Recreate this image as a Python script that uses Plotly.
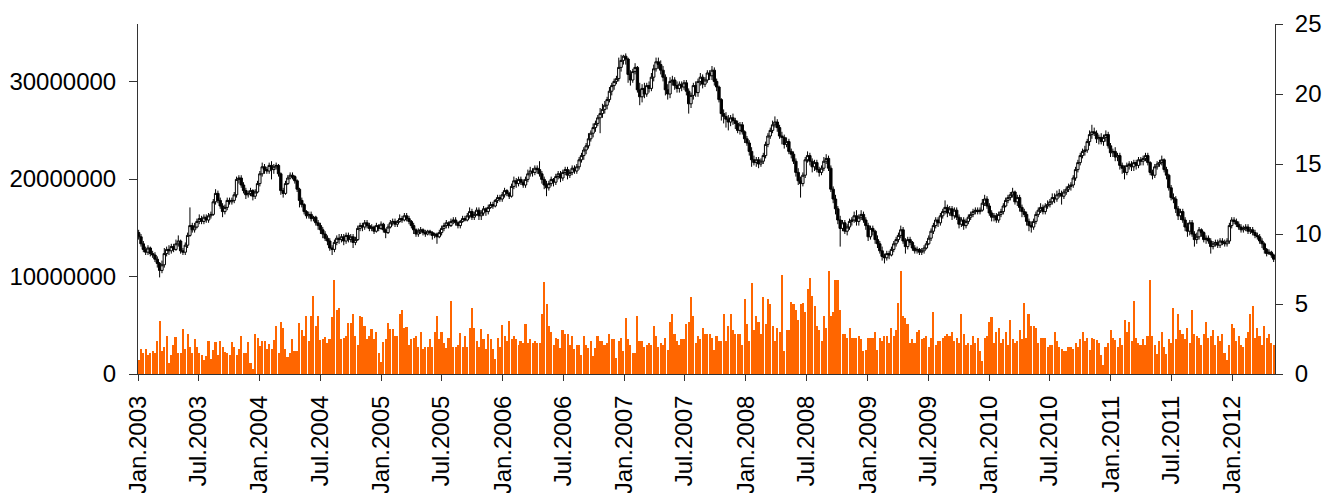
import pandas as pd
import plotly.graph_objects as go

# ---------------- data (weekly) ----------------
open_p = [
10.1, 9.8, 9.3, 8.9, 8.7, 9.0, 8.6, 8.5, 8.2, 7.9,
7.4, 7.8, 8.6, 8.9, 8.8, 9.1, 8.9, 9.3, 9.5, 8.8,
8.7, 9.2, 9.9, 10.6, 10.3, 10.5, 10.9, 11.1, 10.9, 11.2,
11.0, 11.3, 11.4, 12.3, 12.9, 12.4, 12.0, 11.6, 11.9, 12.4,
12.3, 12.4, 12.8, 13.9, 14.0, 13.5, 13.1, 12.8, 12.9, 13.1,
12.7, 13.0, 13.6, 14.3, 14.8, 14.6, 14.5, 14.9, 14.6, 14.8,
14.9, 14.3, 13.1, 12.9, 13.6, 14.0, 14.2, 14.1, 13.8, 13.2,
12.4, 12.1, 11.6, 11.3, 11.4, 11.1, 11.2, 10.8, 10.6, 10.3,
10.0, 9.7, 9.5, 9.0, 8.9, 9.4, 9.7, 9.6, 9.8, 9.5,
9.9, 9.6, 9.8, 9.4, 9.6, 10.4, 10.6, 10.5, 10.8, 10.6,
10.4, 10.5, 10.2, 10.6, 10.4, 10.7, 10.3, 10.1, 10.5, 10.8,
10.9, 10.7, 10.9, 11.1, 11.0, 11.3, 11.1, 10.9, 10.6, 10.3,
10.0, 10.2, 10.3, 10.1, 10.0, 10.2, 10.1, 9.9, 10.0, 9.8,
10.1, 10.4, 10.6, 10.8, 10.6, 10.9, 11.0, 10.8, 10.6, 10.9,
11.1, 11.0, 11.3, 11.6, 11.2, 11.4, 11.7, 11.3, 11.5, 11.8,
11.6, 11.9, 12.1, 12.0, 12.4, 12.6, 12.5, 12.8, 13.1, 12.9,
12.7, 13.4, 13.8, 13.6, 13.9, 13.7, 13.5, 13.9, 14.3, 14.5,
14.4, 14.7, 14.6, 14.3, 13.9, 13.5, 13.3, 13.6, 13.9, 13.7,
14.1, 14.3, 14.0, 14.4, 14.6, 14.2, 14.4, 14.7, 14.5, 14.8,
15.3, 15.6, 16.0, 16.3, 16.8, 17.2, 17.6, 17.9, 18.3, 18.6,
18.9, 19.2, 19.6, 20.2, 20.6, 20.9, 21.1, 21.9, 22.4, 22.7,
22.5, 21.4, 21.0, 21.6, 21.9, 20.3, 19.8, 20.4, 20.0, 20.6,
20.4, 21.2, 21.8, 22.3, 22.1, 21.7, 21.2, 20.3, 20.0, 20.9,
21.0, 20.6, 20.4, 20.7, 20.5, 20.8, 20.2, 19.3, 19.9, 20.6,
20.1, 20.9, 21.2, 20.7, 21.0, 21.5, 21.3, 21.7, 20.9, 20.5,
19.6, 18.6, 18.4, 18.2, 18.0, 18.3, 18.1, 17.9, 17.4, 17.8,
17.3, 16.8, 16.5, 15.9, 15.3, 15.1, 15.3, 15.0, 15.2, 15.6,
16.4, 17.0, 17.4, 17.8, 18.0, 17.6, 17.0, 16.9, 16.4, 16.6,
15.9, 15.7, 15.2, 14.4, 13.8, 13.6, 14.2, 15.3, 15.6, 15.2,
14.8, 15.1, 14.6, 14.4, 14.7, 15.2, 15.4, 14.7, 13.2, 12.5,
11.8, 11.0, 10.4, 10.8, 10.2, 10.5, 10.9, 11.0, 11.3, 10.9,
11.2, 11.4, 11.0, 10.6, 9.8, 10.4, 10.2, 9.6, 9.3, 8.8,
8.4, 8.3, 8.6, 8.5, 8.9, 9.3, 9.6, 9.9, 10.3, 9.5,
9.1, 9.6, 9.4, 9.0, 8.8, 8.9, 8.7, 8.8, 9.0, 9.3,
9.7, 10.2, 10.6, 11.0, 10.8, 11.3, 11.6, 11.9, 11.5, 11.8,
11.3, 11.7, 11.2, 10.7, 11.0, 10.6, 10.9, 11.2, 11.4, 11.6,
11.7, 11.6, 11.7, 12.2, 12.5, 12.0, 11.5, 11.2, 11.3, 11.0,
11.4, 11.6, 12.0, 12.4, 12.6, 12.8, 13.0, 12.3, 12.6, 11.9,
11.6, 11.4, 10.9, 10.6, 10.5, 10.9, 11.4, 11.7, 11.9, 11.6,
12.0, 12.1, 12.3, 12.6, 12.5, 12.8, 12.9, 12.7, 13.0, 13.2,
13.4, 13.5, 14.0, 14.6, 15.1, 15.6, 15.9, 16.0, 16.6, 17.1,
17.3, 17.2, 16.8, 16.9, 16.6, 16.9, 17.1, 16.3, 15.8, 15.9,
15.5, 15.6, 14.9, 14.7, 14.4, 14.9, 15.0, 14.8, 15.1, 14.9,
15.3, 15.2, 15.4, 15.6, 15.1, 14.4, 14.2, 14.8, 15.0, 15.1,
15.3, 14.6, 14.2, 13.3, 12.6, 12.5, 11.8, 11.3, 11.6, 11.0,
10.5, 10.2, 10.8, 10.0, 9.6, 9.8, 10.3, 10.1, 9.6, 9.7,
9.5, 9.1, 9.3, 9.4, 9.2, 9.5, 9.4, 9.3, 9.5, 10.6,
11.0, 10.9, 10.7, 10.5, 10.3, 10.4, 10.5, 10.2, 10.3, 10.1,
9.9, 9.8, 9.5, 9.3, 8.9, 8.6, 8.7, 8.5,
]

high_p = [
10.3, 10.0, 9.5, 9.1, 9.2, 9.1, 8.8, 8.7, 8.4, 8.0,
8.1, 9.0, 9.1, 9.2, 9.3, 9.3, 9.6, 9.9, 9.6, 9.0,
9.4, 10.1, 11.9, 10.8, 10.8, 11.1, 11.4, 11.3, 11.4, 11.4,
11.5, 11.6, 12.5, 13.2, 13.1, 12.6, 12.2, 12.1, 12.6, 12.6,
12.6, 13.0, 14.1, 14.2, 14.2, 13.7, 13.3, 13.1, 13.3, 13.2,
13.2, 13.8, 14.5, 15.1, 15.0, 14.8, 15.1, 15.2, 15.0, 15.1,
15.0, 14.4, 13.3, 13.8, 14.2, 14.4, 14.4, 14.2, 13.9, 13.3,
12.6, 12.2, 11.7, 11.6, 11.6, 11.3, 11.3, 11.0, 10.8, 10.5,
10.2, 9.9, 9.7, 9.2, 9.6, 9.9, 10.0, 10.0, 10.0, 10.1,
10.1, 10.0, 10.0, 9.8, 10.6, 10.8, 10.8, 11.0, 11.0, 10.8,
10.7, 10.6, 10.8, 10.7, 10.9, 10.8, 10.4, 10.7, 11.0, 11.1,
11.1, 11.0, 11.4, 11.3, 11.5, 11.5, 11.3, 11.0, 10.8, 10.4,
10.4, 10.5, 10.4, 10.3, 10.3, 10.3, 10.2, 10.1, 10.1, 10.3,
10.6, 10.8, 11.0, 10.9, 11.1, 11.2, 11.2, 10.9, 11.0, 11.3,
11.3, 11.5, 11.9, 11.8, 11.6, 11.9, 11.9, 11.7, 12.0, 11.9,
12.1, 12.3, 12.3, 12.5, 12.8, 12.8, 13.0, 13.3, 13.2, 13.0,
13.6, 14.1, 14.0, 14.1, 14.1, 13.9, 14.1, 14.6, 14.8, 14.7,
14.9, 14.9, 15.2, 14.5, 14.1, 13.8, 13.8, 14.1, 14.0, 14.3,
14.5, 14.5, 14.6, 14.8, 14.8, 14.6, 14.9, 14.9, 15.0, 15.5,
15.8, 16.2, 16.5, 17.2, 17.4, 17.9, 18.1, 18.5, 19.0, 19.3,
19.5, 19.8, 20.5, 20.8, 21.1, 21.3, 22.6, 22.8, 22.8, 22.9,
22.6, 21.7, 21.8, 22.2, 22.0, 20.8, 20.7, 20.8, 20.8, 20.9,
21.5, 22.1, 22.6, 22.6, 22.4, 22.0, 21.4, 20.7, 21.2, 21.3,
21.2, 20.9, 20.9, 20.9, 21.0, 21.0, 20.4, 20.1, 20.8, 20.9,
21.1, 21.5, 21.4, 21.2, 21.7, 21.7, 22.0, 21.9, 21.1, 20.6,
19.7, 18.9, 18.7, 18.5, 18.5, 18.6, 18.3, 18.1, 18.0, 18.0,
17.4, 17.0, 16.7, 16.2, 15.6, 15.5, 15.5, 15.4, 15.8, 16.6,
17.2, 17.6, 18.1, 18.4, 18.2, 17.8, 17.3, 17.1, 16.9, 16.8,
16.1, 15.9, 15.4, 14.7, 14.1, 14.4, 15.5, 15.9, 15.8, 15.4,
15.3, 15.3, 14.8, 14.9, 15.5, 15.7, 15.6, 14.9, 13.4, 12.8,
12.0, 11.3, 11.0, 11.0, 10.7, 11.1, 11.2, 11.6, 11.7, 11.4,
11.7, 11.6, 11.2, 10.8, 10.6, 10.6, 10.3, 9.9, 9.5, 9.1,
8.6, 8.8, 8.8, 9.1, 9.5, 9.8, 10.1, 10.6, 10.5, 9.7,
9.8, 9.8, 9.5, 9.2, 9.1, 9.0, 9.0, 9.2, 9.5, 9.9,
10.4, 10.8, 11.2, 11.2, 11.5, 11.8, 12.4, 12.1, 12.0, 12.0,
11.9, 11.9, 11.4, 11.2, 11.2, 11.1, 11.4, 11.6, 11.8, 11.9,
11.9, 11.9, 12.5, 12.8, 12.7, 12.2, 11.7, 11.5, 11.5, 11.6,
11.8, 12.2, 12.6, 12.8, 13.0, 13.3, 13.1, 12.8, 12.8, 12.1,
11.8, 11.6, 11.1, 10.9, 11.1, 11.6, 11.9, 12.2, 12.1, 12.2,
12.4, 12.5, 12.9, 12.9, 13.1, 13.2, 13.1, 13.2, 13.4, 13.6,
13.7, 14.2, 14.8, 15.3, 15.8, 16.1, 16.3, 16.8, 17.4, 17.8,
17.6, 17.4, 17.1, 17.2, 17.1, 17.4, 17.3, 16.5, 16.1, 16.2,
15.8, 15.8, 15.1, 14.9, 15.1, 15.2, 15.2, 15.3, 15.3, 15.5,
15.5, 15.6, 15.8, 15.8, 15.2, 14.6, 15.0, 15.2, 15.3, 15.6,
15.4, 14.8, 14.3, 13.5, 12.9, 12.7, 12.0, 11.8, 11.8, 11.2,
10.8, 11.0, 11.0, 10.2, 10.1, 10.5, 10.4, 10.2, 9.9, 9.9,
9.7, 9.5, 9.6, 9.6, 9.7, 9.7, 9.6, 9.7, 10.8, 11.2,
11.2, 11.1, 10.9, 10.7, 10.6, 10.7, 10.7, 10.5, 10.5, 10.3,
10.1, 10.0, 9.7, 9.4, 9.0, 8.9, 8.8, 8.6,
]

low_p = [
9.6, 9.1, 8.7, 8.5, 8.5, 8.4, 8.3, 8.0, 7.6, 6.9,
7.2, 7.6, 8.4, 8.5, 8.6, 8.7, 8.8, 9.1, 8.6, 8.5,
8.5, 9.0, 9.8, 10.1, 10.1, 10.4, 10.7, 10.7, 10.7, 10.8,
10.8, 11.1, 11.3, 12.1, 12.2, 11.8, 11.2, 11.4, 11.7, 12.1,
12.1, 12.2, 12.6, 13.6, 13.3, 12.9, 12.5, 12.6, 12.7, 12.4,
12.5, 12.9, 13.4, 14.1, 14.3, 14.3, 14.3, 13.9, 14.3, 14.6,
14.1, 12.8, 12.6, 12.8, 13.5, 13.9, 13.9, 13.6, 13.0, 11.9,
11.9, 11.4, 11.1, 11.1, 10.9, 10.9, 10.6, 10.3, 10.0, 9.7,
9.5, 9.2, 8.8, 8.5, 8.7, 9.2, 9.3, 9.4, 9.2, 9.3,
9.4, 9.4, 9.0, 9.2, 9.5, 10.2, 10.2, 10.3, 10.4, 10.2,
10.2, 10.0, 10.1, 10.2, 10.3, 10.1, 9.7, 10.0, 10.4, 10.6,
10.5, 10.5, 10.8, 10.8, 10.9, 10.9, 10.7, 10.4, 10.0, 9.8,
9.8, 10.0, 9.9, 9.8, 9.9, 9.9, 9.6, 9.7, 9.3, 9.7,
9.9, 10.2, 10.4, 10.4, 10.5, 10.7, 10.6, 10.4, 10.4, 10.8,
10.9, 10.9, 11.1, 11.0, 11.0, 11.3, 11.0, 11.0, 11.3, 11.3,
11.4, 11.8, 11.8, 11.9, 12.2, 12.3, 12.3, 12.6, 12.7, 12.5,
12.6, 13.2, 13.3, 13.4, 13.5, 13.3, 13.3, 13.7, 14.1, 14.1,
14.2, 14.3, 14.1, 13.6, 13.2, 12.7, 13.1, 13.4, 13.4, 13.5,
13.9, 13.7, 13.8, 14.2, 13.9, 14.0, 14.2, 14.3, 14.3, 14.6,
15.1, 15.3, 15.7, 16.1, 16.6, 16.9, 17.3, 17.7, 17.2, 18.3,
18.6, 18.9, 19.4, 19.9, 20.3, 20.7, 20.9, 21.6, 22.1, 22.1,
20.8, 20.6, 20.8, 21.4, 20.1, 19.2, 19.4, 19.7, 19.8, 20.1,
20.2, 20.9, 21.6, 21.8, 21.4, 20.9, 19.9, 19.6, 19.7, 20.6,
20.3, 20.1, 20.1, 20.2, 20.3, 19.9, 18.6, 19.0, 19.6, 19.8,
19.8, 20.6, 20.4, 20.5, 20.8, 21.0, 21.0, 20.6, 20.2, 19.4,
18.1, 17.9, 17.6, 17.4, 17.7, 17.8, 17.5, 17.2, 17.1, 17.1,
16.5, 16.3, 15.6, 14.8, 14.9, 14.8, 14.7, 14.8, 15.0, 15.4,
16.2, 16.8, 17.2, 17.6, 17.3, 16.8, 16.4, 16.1, 16.2, 15.7,
15.4, 15.0, 14.1, 13.5, 12.6, 13.4, 14.0, 15.1, 14.9, 14.4,
14.5, 14.4, 14.1, 14.2, 14.5, 15.0, 14.5, 13.0, 12.2, 11.4,
10.7, 9.1, 10.2, 10.0, 9.9, 10.3, 10.6, 10.8, 10.6, 10.6,
11.0, 10.8, 10.3, 9.5, 9.6, 9.9, 9.3, 9.0, 8.6, 8.1,
7.9, 8.1, 8.2, 8.4, 8.7, 9.1, 9.4, 9.7, 9.3, 8.6,
8.9, 9.2, 8.8, 8.6, 8.6, 8.5, 8.5, 8.6, 8.9, 9.2,
9.5, 10.0, 10.4, 10.5, 10.6, 11.1, 11.4, 11.2, 11.3, 11.0,
11.1, 11.0, 10.4, 10.5, 10.3, 10.4, 10.7, 11.0, 11.2, 11.4,
11.4, 11.4, 11.6, 12.0, 11.8, 11.3, 10.9, 10.9, 10.8, 10.8,
11.2, 11.4, 11.9, 12.2, 12.4, 12.6, 12.1, 12.0, 11.6, 11.2,
11.2, 10.6, 10.2, 10.1, 10.3, 10.7, 11.2, 11.5, 11.4, 11.4,
11.8, 11.9, 12.1, 12.2, 12.3, 12.6, 12.1, 12.5, 12.8, 13.0,
13.1, 13.3, 13.8, 14.4, 14.9, 15.4, 15.6, 15.8, 16.3, 16.8,
17.0, 16.5, 16.4, 16.4, 16.3, 16.6, 16.1, 15.5, 15.5, 15.2,
15.2, 14.6, 14.3, 13.9, 14.2, 14.6, 14.5, 14.5, 14.6, 14.7,
14.9, 14.9, 15.2, 14.9, 14.2, 13.9, 14.0, 14.6, 14.8, 14.9,
14.4, 13.9, 13.1, 12.4, 12.2, 11.5, 11.0, 11.0, 10.8, 10.2,
9.8, 9.9, 9.8, 9.1, 9.3, 9.6, 9.8, 9.4, 9.3, 9.3,
8.6, 8.9, 9.1, 9.0, 9.0, 9.2, 9.1, 9.1, 9.3, 10.4,
10.7, 10.5, 10.3, 10.1, 10.1, 10.2, 10.0, 10.0, 9.9, 9.7,
9.6, 9.3, 9.0, 8.6, 8.4, 8.5, 8.3, 8.0,
]

close_p = [
9.8, 9.3, 8.9, 8.7, 9.0, 8.6, 8.5, 8.2, 7.9, 7.4,
7.8, 8.6, 8.9, 8.8, 9.1, 8.9, 9.3, 9.5, 8.8, 8.7,
9.2, 9.9, 10.6, 10.3, 10.5, 10.9, 11.1, 10.9, 11.2, 11.0,
11.3, 11.4, 12.3, 12.9, 12.4, 12.0, 11.6, 11.9, 12.4, 12.3,
12.4, 12.8, 13.9, 14.0, 13.5, 13.1, 12.8, 12.9, 13.1, 12.7,
13.0, 13.6, 14.3, 14.8, 14.6, 14.5, 14.9, 14.6, 14.8, 14.9,
14.3, 13.1, 12.9, 13.6, 14.0, 14.2, 14.1, 13.8, 13.2, 12.4,
12.1, 11.6, 11.3, 11.4, 11.1, 11.2, 10.8, 10.6, 10.3, 10.0,
9.7, 9.5, 9.0, 8.9, 9.4, 9.7, 9.6, 9.8, 9.5, 9.9,
9.6, 9.8, 9.4, 9.6, 10.4, 10.6, 10.5, 10.8, 10.6, 10.4,
10.5, 10.2, 10.6, 10.4, 10.7, 10.3, 10.1, 10.5, 10.8, 10.9,
10.7, 10.9, 11.1, 11.0, 11.3, 11.1, 10.9, 10.6, 10.3, 10.0,
10.2, 10.3, 10.1, 10.0, 10.2, 10.1, 9.9, 10.0, 9.8, 10.1,
10.4, 10.6, 10.8, 10.6, 10.9, 11.0, 10.8, 10.6, 10.9, 11.1,
11.0, 11.3, 11.6, 11.2, 11.4, 11.7, 11.3, 11.5, 11.8, 11.6,
11.9, 12.1, 12.0, 12.4, 12.6, 12.5, 12.8, 13.1, 12.9, 12.7,
13.4, 13.8, 13.6, 13.9, 13.7, 13.5, 13.9, 14.3, 14.5, 14.4,
14.7, 14.6, 14.3, 13.9, 13.5, 13.3, 13.6, 13.9, 13.7, 14.1,
14.3, 14.0, 14.4, 14.6, 14.2, 14.4, 14.7, 14.5, 14.8, 15.3,
15.6, 16.0, 16.3, 16.8, 17.2, 17.6, 17.9, 18.3, 18.6, 18.9,
19.2, 19.6, 20.2, 20.6, 20.9, 21.1, 21.9, 22.4, 22.7, 22.5,
21.4, 21.0, 21.6, 21.9, 20.3, 19.8, 20.4, 20.0, 20.6, 20.4,
21.2, 21.8, 22.3, 22.1, 21.7, 21.2, 20.3, 20.0, 20.9, 21.0,
20.6, 20.4, 20.7, 20.5, 20.8, 20.2, 19.3, 19.9, 20.6, 20.1,
20.9, 21.2, 20.7, 21.0, 21.5, 21.3, 21.7, 20.9, 20.5, 19.6,
18.6, 18.4, 18.2, 18.0, 18.3, 18.1, 17.9, 17.4, 17.8, 17.3,
16.8, 16.5, 15.9, 15.3, 15.1, 15.3, 15.0, 15.2, 15.6, 16.4,
17.0, 17.4, 17.8, 18.0, 17.6, 17.0, 16.9, 16.4, 16.6, 15.9,
15.7, 15.2, 14.4, 13.8, 13.6, 14.2, 15.3, 15.6, 15.2, 14.8,
15.1, 14.6, 14.4, 14.7, 15.2, 15.4, 14.7, 13.2, 12.5, 11.8,
11.0, 10.4, 10.8, 10.2, 10.5, 10.9, 11.0, 11.3, 10.9, 11.2,
11.4, 11.0, 10.6, 9.8, 10.4, 10.2, 9.6, 9.3, 8.8, 8.4,
8.3, 8.6, 8.5, 8.9, 9.3, 9.6, 9.9, 10.3, 9.5, 9.1,
9.6, 9.4, 9.0, 8.8, 8.9, 8.7, 8.8, 9.0, 9.3, 9.7,
10.2, 10.6, 11.0, 10.8, 11.3, 11.6, 11.9, 11.5, 11.8, 11.3,
11.7, 11.2, 10.7, 11.0, 10.6, 10.9, 11.2, 11.4, 11.6, 11.7,
11.6, 11.7, 12.2, 12.5, 12.0, 11.5, 11.2, 11.3, 11.0, 11.4,
11.6, 12.0, 12.4, 12.6, 12.8, 13.0, 12.3, 12.6, 11.9, 11.6,
11.4, 10.9, 10.6, 10.5, 10.9, 11.4, 11.7, 11.9, 11.6, 12.0,
12.1, 12.3, 12.6, 12.5, 12.8, 12.9, 12.7, 13.0, 13.2, 13.4,
13.5, 14.0, 14.6, 15.1, 15.6, 15.9, 16.0, 16.6, 17.1, 17.3,
17.2, 16.8, 16.9, 16.6, 16.9, 17.1, 16.3, 15.8, 15.9, 15.5,
15.6, 14.9, 14.7, 14.4, 14.9, 15.0, 14.8, 15.1, 14.9, 15.3,
15.2, 15.4, 15.6, 15.1, 14.4, 14.2, 14.8, 15.0, 15.1, 15.3,
14.6, 14.2, 13.3, 12.6, 12.5, 11.8, 11.3, 11.6, 11.0, 10.5,
10.2, 10.8, 10.0, 9.6, 9.8, 10.3, 10.1, 9.6, 9.7, 9.5,
9.1, 9.3, 9.4, 9.2, 9.5, 9.4, 9.3, 9.5, 10.6, 11.0,
10.9, 10.7, 10.5, 10.3, 10.4, 10.5, 10.2, 10.3, 10.1, 9.9,
9.8, 9.5, 9.3, 8.9, 8.6, 8.7, 8.5, 8.2,
]

volume_millions = [
1.4, 2.6, 2.2, 2.6, 2.0, 2.2, 2.4, 2.2, 3.4, 5.4,
2.4, 2.8, 3.9, 1.1, 2.0, 3.0, 3.8, 2.2, 2.2, 4.6,
2.6, 4.1, 2.8, 2.2, 3.6, 2.8, 2.2, 2.0, 1.4, 1.8,
3.4, 1.5, 2.5, 3.3, 2.0, 3.4, 2.8, 2.3, 2.2, 1.9,
3.3, 2.8, 1.9, 2.6, 3.9, 2.2, 2.2, 3.3, 1.1, 0.5,
4.1, 3.7, 2.9, 3.4, 3.4, 2.6, 3.1, 2.6, 3.5, 4.9,
2.2, 5.3, 4.7, 2.6, 1.7, 2.2, 3.6, 2.4, 2.4, 5.2,
4.5, 3.9, 6.0, 3.4, 5.9, 8.0, 4.9, 6.0, 3.5, 3.6,
3.8, 3.2,
3.6, 5.8, 9.6, 6.6, 6.8, 3.6, 3.7, 3.9, 5.2, 5.2,
6.2, 3.9, 3.0, 6.0, 5.8, 4.9, 3.6, 3.9, 4.6, 3.6,
4.3, 2.2, 1.2, 3.3, 3.6, 5.2, 4.6, 4.6, 3.9, 3.9,
6.2, 6.6, 4.7, 4.8, 3.0, 3.6, 3.7, 3.9, 2.8, 4.3,
2.6, 2.8, 2.8, 3.6, 2.8, 4.3, 6.0, 3.6, 4.3, 3.2,
2.7, 3.7, 7.5, 2.8, 2.8, 3.0, 4.2, 2.8, 3.9, 2.8,
4.7, 6.8, 4.7, 3.4, 2.8, 4.6, 3.6, 2.6, 4.1, 3.6,
2.6, 1.5, 3.7, 2.8, 5.0, 3.9, 3.4, 5.4, 3.6, 3.9,
3.6,
3.0, 3.4, 3.2, 5.1, 3.2, 3.6, 3.2, 3.4, 3.2, 3.2,
6.2, 9.4, 7.2, 4.9, 4.3, 3.0, 3.7, 3.6, 2.7, 4.5,
4.1, 4.1, 3.0, 3.9, 2.6, 3.0, 3.0, 2.0, 3.9, 3.0,
2.7, 3.4, 1.8, 2.7, 3.9, 3.4, 3.4, 3.0, 3.2, 4.1,
3.6, 3.6, 1.6, 3.4, 3.7, 2.4, 5.7, 3.6, 3.0, 2.2,
2.2, 6.0, 3.4, 3.4, 2.8, 3.0, 3.2, 3.0, 4.9, 3.9,
2.8, 3.2, 3.0, 3.7, 2.5, 5.3, 6.2, 4.1, 3.4, 3.0,
3.6, 3.6, 5.1, 5.3, 7.9, 6.0, 3.2, 3.9, 3.6, 4.7,
4.1, 4.1,
4.1, 3.7, 2.5, 3.9, 3.4, 3.4, 6.2, 3.4, 4.9, 6.2,
4.5, 4.1, 4.1, 4.1, 3.0, 7.7, 5.1, 3.4, 9.3, 4.5,
6.0, 5.3, 4.1, 7.9, 5.1, 7.7, 7.2, 4.9, 3.4, 4.7,
4.3, 10.2, 2.4, 4.5, 4.5, 7.4, 7.2, 6.6, 5.5, 7.2,
7.3, 6.4, 8.7, 9.8, 8.0, 7.0, 4.9, 4.5, 3.4, 6.0,
4.7, 10.6, 6.0, 6.4, 9.6, 9.6, 6.6, 4.1, 4.1, 3.7,
4.7, 3.7, 3.7, 3.7, 3.9, 3.6, 2.4, 2.5, 3.7, 3.7,
3.7, 4.3, 2.5, 3.7, 3.4, 3.9, 3.9, 3.2, 4.7, 3.9,
4.5,
7.3, 10.6, 6.0, 5.7, 5.1, 3.2, 3.6, 3.2, 4.3, 4.5,
3.6, 3.7, 3.9, 2.8, 3.7, 6.4, 3.0, 3.4, 3.4, 3.7,
3.9, 4.1, 3.9, 4.3, 3.4, 3.7, 3.2, 6.2, 4.1, 3.0,
3.2, 3.0, 3.9, 3.2, 3.7, 2.4, 1.3, 3.7, 3.9, 5.3,
5.8, 3.2, 4.3, 4.7, 3.2, 3.6, 4.3, 3.0, 5.5, 3.6,
3.2, 3.4, 4.5, 3.6, 7.3, 3.7, 6.2, 4.9, 4.9, 4.7,
3.2, 3.7, 3.7, 3.7, 2.8, 3.0, 3.0, 4.3, 3.4, 2.8,
2.6, 2.4, 2.4, 2.8, 2.8, 2.6, 3.2, 2.8, 3.6, 4.3,
3.4, 3.7,
2.5, 3.7, 3.6, 3.5, 3.2, 2.0, 0.9, 2.8, 3.2, 4.5,
3.7, 3.5, 2.8, 3.7, 3.0, 5.5, 4.3, 5.3, 3.4, 7.5,
3.7, 3.2, 3.0, 3.6, 3.0, 3.9, 9.6, 3.9, 3.0, 2.1,
3.4, 4.3, 2.8, 2.1, 3.6, 3.2, 6.8, 3.6, 6.2, 4.5,
4.1, 3.6, 4.7, 3.2, 6.6, 4.1, 3.9, 3.7, 3.0, 4.1,
5.3, 3.7, 3.9, 4.5, 3.0, 3.9, 3.4, 4.1, 2.2, 1.4,
3.0, 5.1, 4.7, 3.4, 3.9, 3.0, 2.8, 3.7, 4.3, 6.2,
7.0, 3.7, 4.7, 3.9, 3.0, 4.9, 3.7, 4.1, 3.2, 3.0,
]

tick_dates = ["2003-01-01", "2003-07-01", "2004-01-01", "2004-07-01", "2005-01-01",
              "2005-07-01", "2006-01-01", "2006-07-01", "2007-01-01", "2007-07-01",
              "2008-01-01", "2008-07-01", "2009-01-01", "2009-07-01", "2010-01-01",
              "2010-07-01", "2011-01-01", "2011-07-01", "2012-01-01"]
tick_labels = ["Jan.2003", "Jul.2003", "Jan.2004", "Jul.2004", "Jan.2005",
               "Jul.2005", "Jan.2006", "Jul.2006", "Jan.2007", "Jul.2007",
               "Jan.2008", "Jul.2008", "Jan.2009", "Jul.2009", "Jan.2010",
               "Jul.2010", "Jan.2011", "Jul.2011", "Jan.2012"]
vol_ticks = [0, 10000000, 20000000, 30000000]
price_ticks = [0, 5, 10, 15, 20, 25]

n = min(len(open_p), len(high_p), len(low_p), len(close_p), len(volume_millions))
weeks = pd.date_range("2003-01-03", periods=n, freq="7D")
volume = [v * 1e6 for v in volume_millions[:n]]

X_RANGE = ["2003-01-01", "2012-05-08"]
FONT = dict(family="Liberation Sans, Arial, sans-serif", size=24, color="black")
AX = "#333333"

fig = go.Figure()
fig.add_trace(go.Bar(
    x=weeks, y=volume, yaxis="y", xaxis="x",
    marker=dict(color="#FF6600", line=dict(width=0)),
    width=6 * 86400000, hoverinfo="skip",
))
fig.add_trace(go.Candlestick(
    x=weeks, open=open_p[:n], high=high_p[:n], low=low_p[:n], close=close_p[:n],
    yaxis="y2", xaxis="x",
    increasing=dict(line=dict(color="black", width=1), fillcolor="white"),
    decreasing=dict(line=dict(color="black", width=1), fillcolor="black"),
    whiskerwidth=0, hoverinfo="skip",
))

fig.update_layout(
    width=1325, height=493,
    margin=dict(l=138, r=50, t=24, b=119, autoexpand=False),
    paper_bgcolor="white", plot_bgcolor="white",
    showlegend=False, font=FONT, bargap=0, boxgap=0, boxgroupgap=0,
    xaxis=dict(
        type="date", range=X_RANGE, rangeslider=dict(visible=False),
        tickmode="array", tickvals=tick_dates, ticktext=tick_labels, tickangle=-90,
        ticks="outside", ticklen=6, tickcolor=AX, tickwidth=1,
        showline=True, linecolor=AX, linewidth=1, showgrid=False, zeroline=False,
        tickfont=FONT, automargin=False, ticklabelstandoff=5,
    ),
    xaxis2=dict(
        type="date", range=X_RANGE, overlaying="x", anchor="y", side="bottom",
        tickmode="array", tickvals=tick_dates, showticklabels=False,
        ticks="inside", ticklen=7, tickcolor=AX, tickwidth=1,
        showline=False, showgrid=False, zeroline=False, automargin=False,
    ),
    yaxis=dict(
        range=[0, 35.9e6], tickmode="array", tickvals=vol_ticks,
        ticktext=[str(v) for v in vol_ticks],
        ticks="outside", ticklen=8, tickcolor=AX, tickwidth=1,
        showline=True, linecolor=AX, linewidth=1, showgrid=False, zeroline=False,
        tickfont=FONT, automargin=False, ticklabelstandoff=8,
    ),
    yaxis2=dict(
        range=[0, 25], overlaying="y", side="right", anchor="x",
        tickmode="array", tickvals=price_ticks,
        ticks="outside", ticklen=7, tickcolor=AX, tickwidth=1,
        showline=True, linecolor=AX, linewidth=1, showgrid=False, zeroline=False,
        tickfont=FONT, automargin=False, ticklabelstandoff=7,
    ),
    yaxis3=dict(
        range=[0, 35.9e6], overlaying="y", side="left", anchor="x",
        tickmode="array", tickvals=vol_ticks, showticklabels=False,
        ticks="inside", ticklen=8, tickcolor=AX, tickwidth=1,
        showline=False, showgrid=False, zeroline=False, automargin=False,
    ),
    yaxis4=dict(
        range=[0, 25], overlaying="y", side="right", anchor="x",
        tickmode="array", tickvals=price_ticks, showticklabels=False,
        ticks="inside", ticklen=7, tickcolor=AX, tickwidth=1,
        showline=False, showgrid=False, zeroline=False, automargin=False,
    ),
)

fig.write_html("out.html")
